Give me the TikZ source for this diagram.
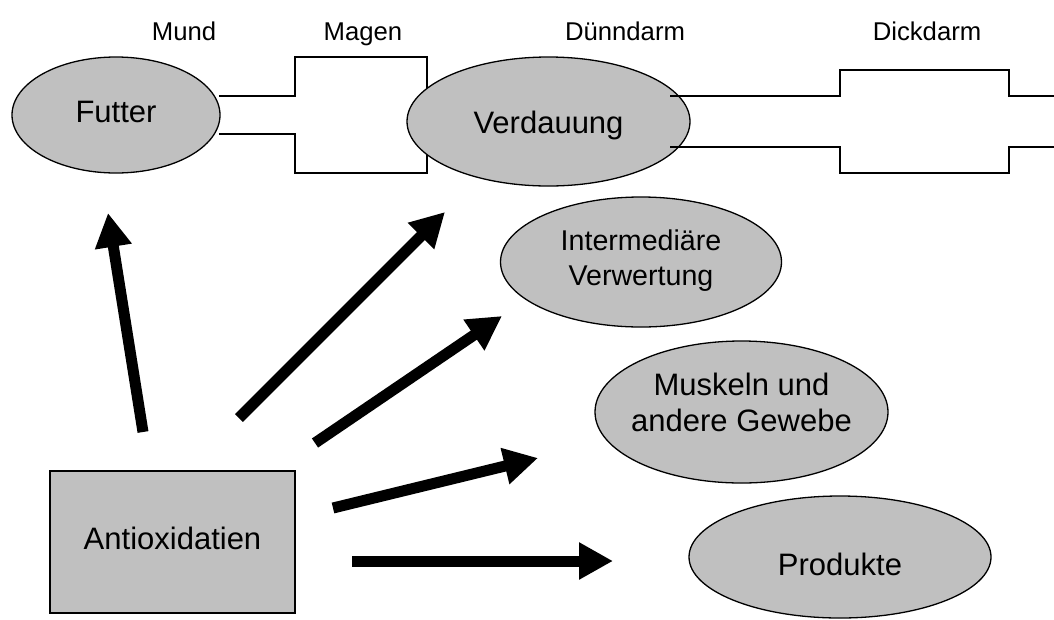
\documentclass[tikz,border=0pt]{standalone}
\usepackage{fontspec}
\setmainfont{Liberation Sans}
\usetikzlibrary{shapes.geometric,arrows.meta}
\definecolor{shade}{HTML}{C0C0C0}
\begin{document}
\begin{tikzpicture}[x=1pt,y=-1pt,
  oval/.style={ellipse,draw=black,line width=1.3pt,fill=shade,inner sep=0pt},
  boxnode/.style={rectangle,draw=black,line width=1.3pt,fill=shade,inner sep=0pt},
  txt/.style={inner sep=0pt,align=center,font=\fontsize{31}{36}\selectfont},
  lbl/.style={inner sep=0pt,anchor=base,font=\fontsize{25.7}{30}\selectfont},
  pipe/.style={draw=black,line width=1.3pt},
  bigarrow/.style={line width=11pt,-{Triangle[length=34pt,width=35pt]}}]
\useasboundingbox (0,0) rectangle (1054,619);
% labels
\node[lbl] (mund) at (184,40) {Mund};
\node[lbl] (magen) at (363,40) {Magen};
\node[lbl] (duenn) at (625,40) {Dünndarm};
\node[lbl] (dick) at (927,40) {Dickdarm};
% stomach pipe
\draw[pipe] (219,96) -- (295,96) -- (295,57) -- (427,57) -- (427,173) -- (295,173) -- (295,134) -- (219,134);
% nodes
\node[oval,minimum width=208pt,minimum height=116pt,
  label={[txt,yshift=3pt]center:Futter}] (futter) at (116,115) {};
\node[oval,minimum width=283pt,minimum height=129pt,
  label={[txt,yshift=-4pt]center:Verdauung}] (verd) at (548.5,121.5) {};
% intestine pipe
\draw[pipe] (670,96) -- (840,96) -- (840,70) -- (1009,70) -- (1009,96) -- (1054,96);
\draw[pipe] (670,147) -- (840,147) -- (840,173) -- (1009,173) -- (1009,147) -- (1054,147);
\node[oval,minimum width=281pt,minimum height=130pt,
  label={[txt,font=\fontsize{28.6}{35}\selectfont,yshift=1pt]center:Intermediäre\\Verwertung}] (inter) at (641,262) {};
\node[oval,minimum width=293pt,minimum height=142pt,
  label={[txt,yshift=10pt]center:Muskeln und\\andere Gewebe}] (musk) at (741.5,412) {};
\node[oval,minimum width=302pt,minimum height=122pt,
  label={[txt,yshift=-7pt]center:Produkte}] (prod) at (840,557) {};
\node[boxnode,minimum width=245pt,minimum height=142pt,
  label={[txt,yshift=4pt]center:Antioxidatien}] (anti) at (172.5,542) {};
% arrow end points
\coordinate (t1) at (143,432); \coordinate (h1) at (108,213);
\coordinate (t2) at (239,418); \coordinate (h2) at (445,212);
\coordinate (t3) at (315,443); \coordinate (h3) at (502,316);
\coordinate (t4) at (333,508); \coordinate (h4) at (538,458);
\coordinate (t5) at (352,561); \coordinate (h5) at (613,561);
\draw[bigarrow] (t1) -- (h1);
\draw[bigarrow] (t2) -- (h2);
\draw[bigarrow] (t3) -- (h3);
\draw[bigarrow] (t4) -- (h4);
\draw[bigarrow] (t5) -- (h5);
\end{tikzpicture}
\end{document}
